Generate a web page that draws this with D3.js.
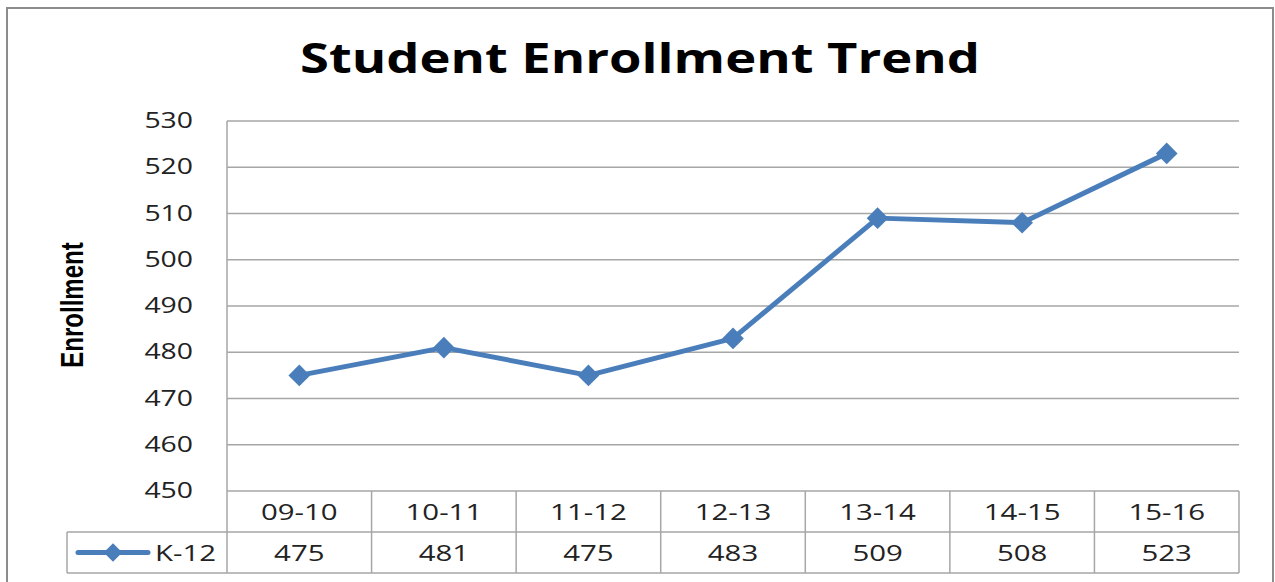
<!DOCTYPE html>
<html>
<head>
<meta charset="utf-8">
<script src="https://cdn.jsdelivr.net/npm/d3@7"></script>
<style>
  body { margin: 0; background: #fff; }
  svg { display: block; }
  text { font-family: "Open Sans", "DejaVu Sans", sans-serif; fill: #222; }
</style>
</head>
<body>
<div id="chart"></div>
<script>
// chart data
const years = ["09-10", "10-11", "11-12", "12-13", "13-14", "14-15", "15-16"];
const enrollment = [475, 481, 475, 483, 509, 508, 523];
const yTicks = [450, 460, 470, 480, 490, 500, 510, 520, 530];
const seriesName = "K-12";

const W = 1275, H = 582;
const plot = { left: 227, right: 1239, top: 121, bottom: 491 };
const rowH = 41;
const legendLeft = 67;
const blue = "#4a7ebb";
const gridColor = "#a6a6a6";
const stretch = 1.4; // the original text looks horizontally widened

const svg = d3.select("#chart").append("svg")
    .attr("width", W)
    .attr("height", H);

// outer chart border
svg.append("rect")
    .attr("x", 7).attr("y", 8)
    .attr("width", 1266).attr("height", 600)
    .attr("fill", "none")
    .attr("stroke", "#8c8c8c")
    .attr("stroke-width", 2);

// helper for widened text
function wideText(g, px, py, sx, anchor) {
    return g.append("text")
        .attr("transform", `translate(${px},${py}) scale(${sx},1)`)
        .attr("text-anchor", anchor);
}

// title
wideText(svg, 640, 73, 1.25, "middle")
    .style("font-size", "42px")
    .style("font-weight", "bold")
    .style("fill", "#000")
    .text("Student Enrollment Trend");

// scales
const x = d3.scaleBand()
    .domain(years)
    .range([plot.left, plot.right]);

const y = d3.scaleLinear()
    .domain([450, 530])
    .range([plot.bottom, plot.top]);

// gridlines
svg.append("g")
    .selectAll("line")
    .data(yTicks)
    .enter().append("line")
    .attr("x1", plot.left).attr("x2", plot.right)
    .attr("y1", d => y(d)).attr("y2", d => y(d))
    .attr("stroke", gridColor)
    .attr("stroke-width", 1.5);

// y tick labels
svg.append("g")
    .selectAll("text")
    .data(yTicks)
    .enter().append("text")
    .attr("transform", d => `translate(193,${y(d) + 7}) scale(1.35,1)`)
    .attr("text-anchor", "end")
    .style("font-size", "21px")
    .text(d => d);

// y axis title
svg.append("text")
    .attr("transform", "translate(83,305) scale(1.3,1) rotate(-90)")
    .attr("text-anchor", "middle")
    .style("font-family", "'Liberation Sans Narrow', 'Liberation Sans', sans-serif")
    .style("font-size", "24px")
    .style("font-weight", "bold")
    .style("fill", "#000")
    .text("Enrollment");

// data table
const tableTop = plot.bottom;
const tableBottom = tableTop + rowH * 2;
const table = svg.append("g").attr("stroke", gridColor).attr("stroke-width", 1.5);

// vertical lines between columns
const colEdges = years.map(d => x(d)).concat([plot.right]);
table.selectAll("line.col")
    .data(colEdges)
    .enter().append("line")
    .attr("class", "col")
    .attr("x1", d => d).attr("x2", d => d)
    .attr("y1", (d, i) => i === 0 ? plot.top : tableTop)
    .attr("y2", tableBottom);

// horizontal rows
table.append("line")
    .attr("x1", legendLeft).attr("x2", plot.right)
    .attr("y1", tableTop + rowH).attr("y2", tableTop + rowH);
table.append("line")
    .attr("x1", legendLeft).attr("x2", plot.right)
    .attr("y1", tableBottom).attr("y2", tableBottom);
table.append("line")
    .attr("x1", legendLeft).attr("x2", legendLeft)
    .attr("y1", tableTop + rowH).attr("y2", tableBottom);

// category labels
svg.append("g")
    .selectAll("text")
    .data(years)
    .enter().append("text")
    .attr("transform", d => `translate(${x(d) + x.bandwidth() / 2},${tableTop + rowH / 2 + 8}) scale(${stretch},1)`)
    .attr("text-anchor", "middle")
    .style("font-size", "21px")
    .text(d => d);

// values row
svg.append("g")
    .selectAll("text")
    .data(enrollment)
    .enter().append("text")
    .attr("transform", (d, i) => `translate(${x(years[i]) + x.bandwidth() / 2},${tableTop + rowH * 1.5 + 8}) scale(${stretch},1)`)
    .attr("text-anchor", "middle")
    .style("font-size", "21px")
    .text(d => d);

// legend key
const legY = tableTop + rowH * 1.5;
svg.append("line")
    .attr("x1", 78).attr("x2", 148)
    .attr("y1", legY).attr("y2", legY)
    .attr("stroke", blue)
    .attr("stroke-width", 5)
    .attr("stroke-linecap", "round");
svg.append("path")
    .attr("d", d3.symbol().type(d3.symbolDiamond2).size(220)())
    .attr("transform", `translate(113,${legY})`)
    .attr("fill", blue);
wideText(svg, 155, legY + 8, stretch, "start")
    .style("font-size", "21px")
    .text(seriesName);

// line
const line = d3.line()
    .x((d, i) => x(years[i]) + x.bandwidth() / 2)
    .y(d => y(d));

svg.append("path")
    .datum(enrollment)
    .attr("fill", "none")
    .attr("stroke", blue)
    .attr("stroke-width", 5)
    .attr("stroke-linejoin", "round")
    .attr("d", line);

// diamond markers
svg.append("g")
    .selectAll("path")
    .data(enrollment)
    .enter().append("path")
    .attr("d", d3.symbol().type(d3.symbolDiamond2).size(300)())
    .attr("transform", (d, i) => `translate(${x(years[i]) + x.bandwidth() / 2},${y(d)})`)
    .attr("fill", blue);
</script>
</body>
</html>
